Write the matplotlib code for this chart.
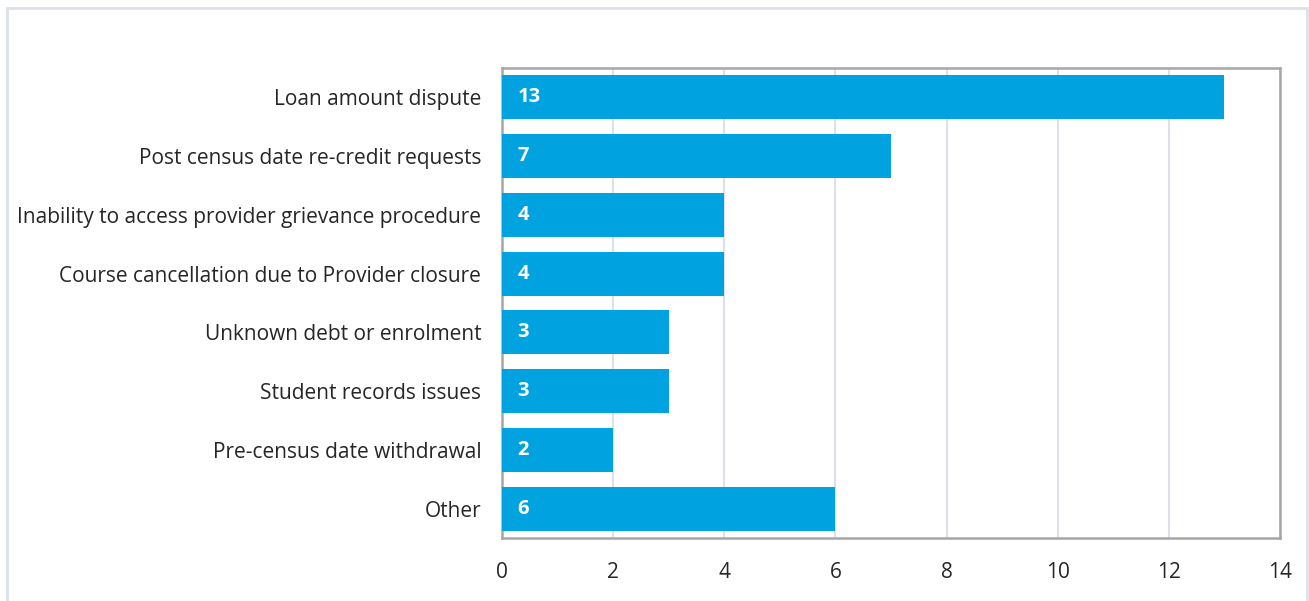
import matplotlib
matplotlib.use('Agg')
import matplotlib.pyplot as plt
from matplotlib.patches import Rectangle

categories = ['Loan amount dispute', 'Post census date re-credit requests',
              'Inability to access provider grievance procedure',
              'Course cancellation due to Provider closure',
              'Unknown debt or enrolment', 'Student records issues',
              'Pre-census date withdrawal', 'Other']
values = [13, 7, 4, 4, 3, 3, 2, 6]
xticks = [0, 2, 4, 6, 8, 10, 12, 14]

plt.rcParams['font.family'] = ['Open Sans', 'DejaVu Sans']

W, H = 1309, 601
fig = plt.figure(figsize=(W / 100, H / 100), dpi=100)
ax = fig.add_axes([502 / W, 1 - 538 / H, (1280 - 502) / W, (538 - 68) / H])

ypos = list(range(len(categories)))
ax.barh(ypos, values, height=0.75, color='#00A3E0', zorder=3)
for y, v in zip(ypos, values):
    ax.text(0.28, y, str(v), color='white', fontweight='bold', fontsize=14.5,
            va='center', ha='left', zorder=4)

ax.set_yticks(ypos)
ax.set_yticklabels(categories, fontsize=15, color='#262626')
ax.set_ylim(len(categories) - 0.5, -0.5)
ax.set_xlim(0, 14)
ax.set_xticks(xticks)
ax.set_xticklabels([str(t) for t in xticks], fontsize=15, color='#262626')
ax.tick_params(axis='both', length=0)
ax.tick_params(axis='y', pad=15)
ax.tick_params(axis='x', pad=17)
ax.grid(axis='x', color='#DCE0E8', linewidth=1.5, zorder=0)
for s in ax.spines.values():
    s.set_color('#A6A6A6')
    s.set_linewidth(1.8)

fig.patches.append(Rectangle((7 / W, -0.02), 1300 / W, 1 - 8 / H + 0.02,
                             transform=fig.transFigure, fill=False,
                             edgecolor='#DCE0E8', linewidth=2))

fig.savefig('out.png', dpi=100)
